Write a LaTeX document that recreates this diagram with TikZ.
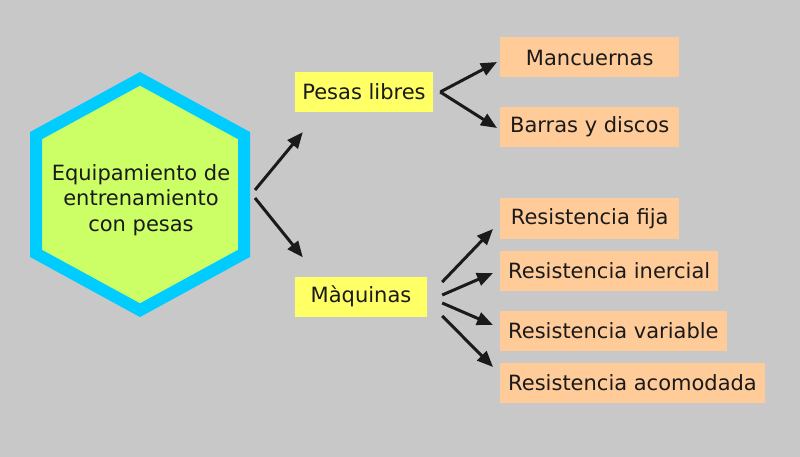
\documentclass[tikz,border=0pt]{standalone}
\usepackage{fontspec}
\setmainfont{DejaVu Sans}
\usepackage{xcolor}
\usetikzlibrary{arrows.meta}
\definecolor{bggray}{HTML}{C8C8C8}
\definecolor{hexblue}{HTML}{00CCFF}
\definecolor{hexgreen}{HTML}{CCFF66}
\definecolor{boxyellow}{HTML}{FFFF66}
\definecolor{boxorange}{HTML}{FFCC99}
\definecolor{inkdark}{HTML}{1A1A1A}

\begin{document}
\begin{tikzpicture}[
    x=1pt, y=-1pt,
    txt/.style={text=inkdark, font=\fontsize{21}{25.5}\selectfont},
    group/.style={txt, fill=boxyellow, minimum height=40pt, inner sep=4pt},
    leaf/.style={txt, fill=boxorange, anchor=west, minimum width=179pt, minimum height=40pt, inner xsep=8pt},
    arrow/.style={-{Triangle[length=16pt,width=13pt]}, line width=3pt, inkdark}
]
\fill[bggray] (0,0) rectangle (800,457);
\draw[line width=12pt, line join=miter, draw=hexblue, fill=hexgreen]
    (140,78.8) -- (244,135.6) -- (244,253.4) -- (140,310.2) -- (36,253.4) -- (36,135.6) -- cycle;
\node[txt, align=center] (hex) at (141,200) {Equipamiento de\\entrenamiento\\con pesas};
\coordinate (hexout) at (255,194);

\node[group, minimum width=138pt] (pl) at (364,92) {Pesas libres};
\node[group, minimum width=132pt] (maq) at (361,296.5) {Màquinas};

\node[leaf] (man) at (500,57.5) {Mancuernas};
\node[leaf] (bar) at (500,127) {Barras y discos};
\node[leaf] (fija) at (500,218.5) {Resistencia fija};
\node[leaf] (inerc) at (500,270.5) {Resistencia inercial};
\node[leaf] (var) at (500,330.5) {Resistencia variable};
\node[leaf] (acom) at (500,383) {Resistencia acomodada};

\draw[arrow] ([yshift=4pt]hexout) -- ([xshift=8pt,yshift=-20pt]pl.south west);
\draw[arrow] ([yshift=-4pt]hexout) -- ([xshift=8pt,yshift=19pt]maq.north west);
\draw[arrow] ([xshift=7pt]pl.east) -- ([xshift=-3pt,yshift=-4.5pt]man.west);
\draw[arrow] ([xshift=7pt]pl.east) -- ([xshift=-3pt,yshift=-1pt]bar.west);
\draw[arrow] ([xshift=15pt,yshift=14.5pt]maq.east) -- ([xshift=-7pt,yshift=-10.5pt]fija.west);
\draw[arrow] ([xshift=15pt,yshift=1.5pt]maq.east) -- ([xshift=-7pt,yshift=-2.5pt]inerc.west);
\draw[arrow] ([xshift=15pt,yshift=-6.5pt]maq.east) -- ([xshift=-7pt,yshift=5.5pt]var.west);
\draw[arrow] ([xshift=15pt,yshift=-19.5pt]maq.east) -- ([xshift=-7pt,yshift=16pt]acom.west);
\end{tikzpicture}
\end{document}
